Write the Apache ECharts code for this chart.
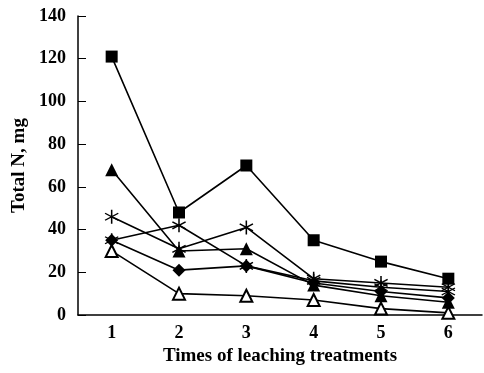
<!DOCTYPE html>
<html>
<head>
<meta charset="utf-8">
<script src="https://cdn.jsdelivr.net/npm/echarts@6/dist/echarts.min.js"></script>
<style>
html, body { margin: 0; padding: 0; background: #fff; }
#chart { width: 484px; height: 373px; }
</style>
</head>
<body>
<div id="chart"></div>
<script>
// leaching times
var times = ['1', '2', '3', '4', '5', '6'];

// total N (mg), one list per treatment
var squareData   = [121, 48, 70, 35, 25, 17];
var triangleData = [68, 30, 31, 14, 9, 6];
var starData     = [46, 31, 41, 17, 15, 13];
var star2Data    = [35, 42, 23, 16, 13, 11];
var diamondData  = [35, 21, 23, 15, 11, 8];
var openTriData  = [30, 10, 9, 7, 3, 1];

var yTicks = { min: 0, max: 140, interval: 20 };

// asterisk drawn as three thin bars
var asterisk = 'path://M-1,-10L1,-10L1,10L-1,10Z' +
	'M8.16,-5.866L9.16,-4.134L-8.16,5.866L-9.16,4.134Z' +
	'M-9.16,-4.134L-8.16,-5.866L9.16,4.134L8.16,5.866Z';

var font = 'Liberation Serif';

function makeSeries(data, symbol, size, empty){
	return {
		type: 'line',
		data: data,
		symbol: symbol,
		symbolSize: size,
		showAllSymbol: true,
		animation: false,
		lineStyle: { color: '#000', width: 1.6 },
		itemStyle: empty ? { color: '#fff', borderColor: '#000', borderWidth: 2 }
		                 : { color: '#000', borderWidth: 0 }
	};
}

var chart = echarts.init(document.getElementById('chart'));
chart.setOption({
	backgroundColor: '#fff',
	grid: { left: 78, right: 2, top: 16, bottom: 58 },
	xAxis: {
		type: 'category',
		data: times,
		boundaryGap: true,
		name: 'Times of leaching treatments',
		nameLocation: 'middle',
		nameGap: 30,
		nameTextStyle: { fontFamily: font, fontSize: 19, fontWeight: 'bold', color: '#000' },
		axisLine: { lineStyle: { color: '#000', width: 1.5 } },
		axisTick: { inside: true, length: 7, lineStyle: { color: '#000' } },
		axisLabel: { fontFamily: font, fontSize: 18, fontWeight: 'bold', color: '#000', margin: 9 }
	},
	yAxis: {
		type: 'value',
		min: yTicks.min,
		max: yTicks.max,
		interval: yTicks.interval,
		name: 'Total N, mg',
		nameLocation: 'middle',
		nameGap: 46,
		nameTextStyle: { fontFamily: font, fontSize: 19, fontWeight: 'bold', color: '#000' },
		axisLine: { show: true, lineStyle: { color: '#000', width: 1.5 } },
		axisTick: { show: true, inside: true, length: 8, lineStyle: { color: '#000' } },
		axisLabel: { fontFamily: font, fontSize: 18, fontWeight: 'bold', color: '#000', margin: 12 },
		splitLine: { show: false }
	},
	series: [
		makeSeries(openTriData, 'triangle', 12, true),
		makeSeries(diamondData, 'diamond', 13, false),
		makeSeries(star2Data, asterisk, 14, false),
		makeSeries(starData, asterisk, 14, false),
		makeSeries(triangleData, 'triangle', 13, false),
		makeSeries(squareData, 'rect', 12, false)
	]
});
</script>
</body>
</html>
